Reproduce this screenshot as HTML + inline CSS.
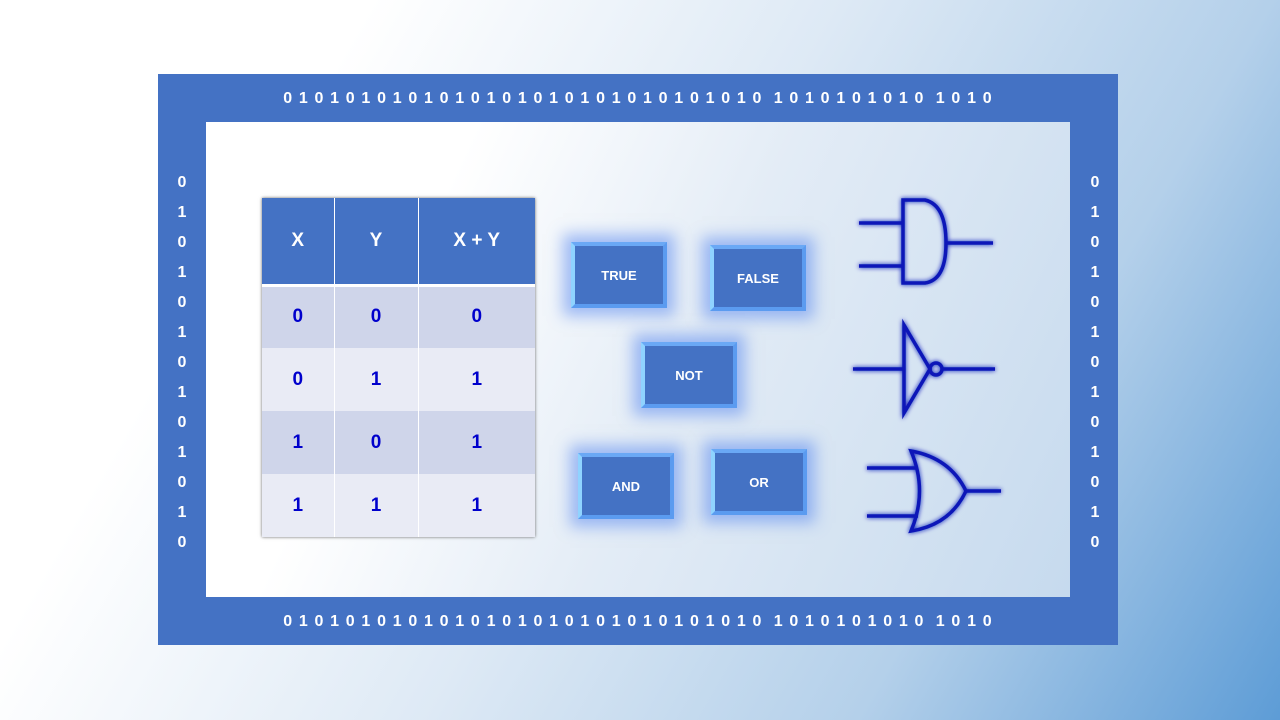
<!DOCTYPE html>
<html><head><meta charset="utf-8"><style>
*{margin:0;padding:0;box-sizing:border-box}
body{width:1280px;height:720px;overflow:hidden;position:relative;font-family:"Liberation Sans",sans-serif;
background:linear-gradient(120deg,#ffffff 0%,#ffffff 22%,#dde9f5 50%,#b4d0ea 75%,#5d9cd6 100%);}
.frame{position:absolute;left:158px;top:74px;width:960px;height:571px;background:#4472c4}
.inner{position:absolute;left:206px;top:122px;width:864px;height:475px;
background:linear-gradient(115deg,#ffffff 0%,#ffffff 25%,#e3ecf6 55%,#c6daee 100%)}
.bits{position:absolute;left:206px;width:864px;text-align:center;color:#fff;font-weight:bold;font-size:16px;letter-spacing:1.15px;word-spacing:0px}
.col{position:absolute;width:30px;text-align:center;color:#fff;font-weight:bold;font-size:16px;line-height:30px;top:168px}
table{position:absolute;left:262px;top:198px;border-collapse:collapse;box-shadow:0 0 3px #666}
td{text-align:center;font-weight:bold;font-size:19px;color:#0000cc;height:63px;border-left:1px solid #fff}
td:first-child{border-left:none}
tr.h td{background:#4472c4;color:#fff;height:87px;border-bottom:3px solid #fff}
tr.a td{background:#cfd5ea}
tr.b td{background:#e9ebf5}
.btn{position:absolute;width:96px;height:66px;background:#4472c4;color:#fff;font-weight:bold;font-size:13px;display:flex;align-items:center;justify-content:center;
border:4px solid #5b9bf0;border-left-color:#8fd3ff;border-top-color:#6aa8f5;box-shadow:0 0 14px 8px rgba(80,130,240,.5)}
</style></head><body>
<div class="frame"></div>
<div class="inner"></div>
<div class="bits" style="top:90px">0 1 0 1 0 1 0 1 0 1 0 1 0 1 0 1 0 1 0 1 0 1 0 1 0 1 0 1 0 1 0&nbsp;&nbsp;1 0 1 0 1 0 1 0 1 0&nbsp;&nbsp;1 0 1 0</div>
<div class="bits" style="top:613px">0 1 0 1 0 1 0 1 0 1 0 1 0 1 0 1 0 1 0 1 0 1 0 1 0 1 0 1 0 1 0&nbsp;&nbsp;1 0 1 0 1 0 1 0 1 0&nbsp;&nbsp;1 0 1 0</div>
<div class="col" style="left:167px">0<br>1<br>0<br>1<br>0<br>1<br>0<br>1<br>0<br>1<br>0<br>1<br>0</div>
<div class="col" style="left:1080px">0<br>1<br>0<br>1<br>0<br>1<br>0<br>1<br>0<br>1<br>0<br>1<br>0</div>
<table>
<tr class="h"><td style="width:72px">X</td><td style="width:84px">Y</td><td style="width:117px">X + Y</td></tr>
<tr class="a"><td>0</td><td>0</td><td>0</td></tr>
<tr class="b"><td>0</td><td>1</td><td>1</td></tr>
<tr class="a"><td>1</td><td>0</td><td>1</td></tr>
<tr class="b"><td>1</td><td>1</td><td>1</td></tr>
</table>
<div class="btn" style="left:571px;top:242px">TRUE</div>
<div class="btn" style="left:710px;top:245px">FALSE</div>
<div class="btn" style="left:641px;top:342px">NOT</div>
<div class="btn" style="left:578px;top:453px">AND</div>
<div class="btn" style="left:711px;top:449px">OR</div>
<svg style="position:absolute;left:0;top:0" width="1280" height="720">
<defs><filter id="g" x="-20%" y="-20%" width="140%" height="140%"><feGaussianBlur stdDeviation="2.5" result="b"/><feMerge><feMergeNode in="b"/><feMergeNode in="SourceGraphic"/></feMerge></filter></defs>
<g fill="none" stroke="#0818b8" stroke-width="3.5" filter="url(#g)">
<line x1="859" y1="223" x2="903" y2="223"/><line x1="859" y1="266" x2="903" y2="266"/>
<path d="M903 200 L925 200 Q946 205 946 243 Q946 280 925 283 L903 283 Z"/>
<line x1="946" y1="243" x2="993" y2="243"/>
<line x1="853" y1="369" x2="904" y2="369"/>
<path d="M904 325 L930 369 L904 413 Z"/>
<circle cx="936" cy="369" r="6"/>
<line x1="942" y1="369" x2="995" y2="369"/>
<line x1="867" y1="468" x2="918" y2="468"/><line x1="867" y1="516" x2="918" y2="516"/>
<path d="M911 451 Q928 491 911 531 Q950 525 966 491 Q950 458 911 451 Z"/>
<line x1="966" y1="491" x2="1001" y2="491"/>
</g>
</svg>
</body></html>
